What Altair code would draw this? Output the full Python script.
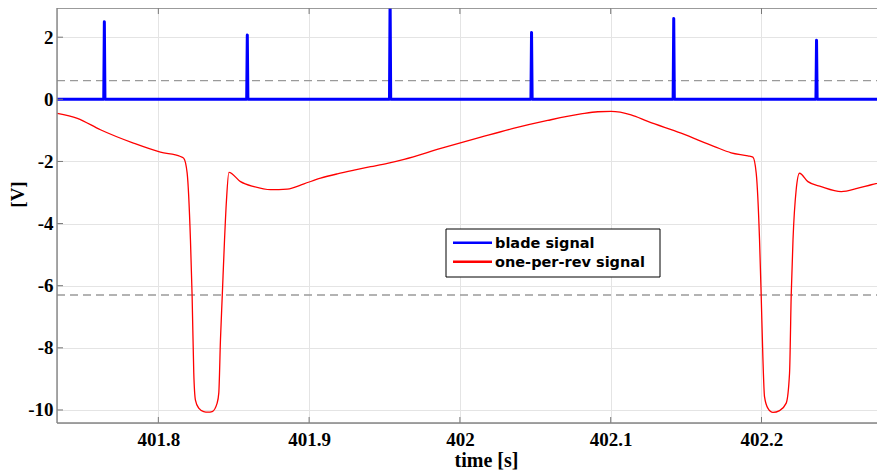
import altair as alt
import pandas as pd

# ---- data ----
t_start, t_end = 401.7328, 402.2766

red_t = [401.7330, 401.7463, 401.7616, 401.7835, 401.8014, 401.8147, 401.8169, 401.8191,
         401.8213, 401.8224, 401.8235, 401.8246, 401.8268, 401.8301, 401.8329, 401.8357,
         401.8390, 401.8401, 401.8412, 401.8424, 401.8439, 401.8452, 401.8468, 401.8545,
         401.8634, 401.8744, 401.8855, 401.8966, 401.9076, 401.9187, 401.9298, 401.9408,
         401.9519, 401.9630, 401.9873, 402.0139, 402.0360, 402.0582, 402.0803, 402.0914,
         402.1002, 402.1135, 402.1246, 402.1467, 402.1688, 402.1799, 402.1910, 402.1943,
         402.1965, 402.1987, 402.1998, 402.2009, 402.2020, 402.2043, 402.2076, 402.2120,
         402.2164, 402.2186, 402.2197, 402.2209, 402.2230, 402.2252, 402.2308, 402.2396,
         402.2529, 402.2640, 402.2728, 402.2821]
red_v = [-0.45, -0.61, -0.98, -1.41, -1.70, -1.84, -1.90, -2.37,
         -4.52, -6.32, -8.80, -9.68, -9.94, -10.05, -10.07, -10.05,
         -9.78, -9.45, -7.75, -6.32, -4.52, -3.24, -2.35, -2.65,
         -2.81, -2.91, -2.89, -2.72, -2.54, -2.40, -2.28, -2.17,
         -2.06, -1.93, -1.58, -1.22, -0.93, -0.68, -0.47, -0.40,
         -0.39, -0.50, -0.71, -1.09, -1.52, -1.72, -1.82, -1.86,
         -2.38, -4.52, -6.32, -8.28, -9.57, -9.95, -10.08, -10.02,
         -9.78, -8.82, -6.32, -4.52, -2.91, -2.38, -2.65, -2.81,
         -2.97, -2.86, -2.75, -2.65]

spike_t = [401.7642, 401.8590, 401.9537, 402.0475, 402.1418, 402.2365]
spike_v = [2.50, 2.07, 3.30, 2.15, 2.60, 1.90]
baseline_v = 0.0

series_names = ["blade signal", "one-per-rev signal"]
series_colors = ["#0000ff", "#ff0000"]
thresholds = [0.6, -6.3]
x_ticks = [401.8, 401.9, 402.0, 402.1, 402.2]
y_ticks = [-10, -8, -6, -4, -2, 0, 2]

# ---- tables ----
bt, bv = [t_start], [baseline_v]
for t, h in zip(spike_t, spike_v):
    bt += [t - 0.0004, t, t + 0.0004]
    bv += [baseline_v, h, baseline_v]
bt.append(402.2821)
bv.append(baseline_v)
blue_df = pd.DataFrame({"t": bt, "v": bv})
red_df = pd.DataFrame({"t": red_t, "v": red_v})
thr_df = pd.DataFrame({"v": thresholds})
yt_df = pd.DataFrame({"v": y_ticks})
xt_df = pd.DataFrame({"t": x_ticks})

W, H = 820, 415
SERIF = "Liberation Serif"
SANS = "DejaVu Sans"
FRAME = "#858585"

xs = alt.Scale(domain=[t_start, t_end], nice=False, zero=False)
ys = alt.Scale(domain=[-10.42, 2.94], nice=False, zero=False)

x_axis = alt.Axis(values=x_ticks, labelExpr="'' + datum.value", title="time [s]",
                  grid=True, gridColor="#e4e4e4", gridWidth=1, domain=False,
                  ticks=False, tickSize=0, labelPadding=7,
                  labelFont=SERIF, labelFontSize=19, labelFontWeight="bold", labelColor="#000",
                  titleFont=SERIF, titleFontSize=20, titleFontWeight="bold", titleColor="#000",
                  titleX=429, titleY=43, titleBaseline="alphabetic", titleAlign="center")
y_axis = alt.Axis(values=y_ticks, labelExpr="'' + datum.value", title="[V]",
                  grid=True, gridColor="#e4e4e4", gridWidth=1, domain=False,
                  ticks=False, tickSize=0, labelPadding=4,
                  labelFont=SERIF, labelFontSize=19, labelFontWeight="bold", labelColor="#000",
                  titleFont=SERIF, titleFontSize=19, titleFontWeight="bold", titleColor="#000",
                  titleX=-40, titleY=186, titleAngle=-90, titleBaseline="middle", titleAlign="center")

X = alt.X("t:Q", scale=xs, axis=x_axis)
Y = alt.Y("v:Q", scale=ys, axis=y_axis)

thr = alt.Chart(thr_df).mark_rule(color="#9a9a9a", strokeWidth=1.3, strokeDash=[8, 5]).encode(
    y=Y, x=alt.value(0), x2=alt.value(W))

blue = alt.Chart(blue_df).mark_line(color=series_colors[0], strokeWidth=3, clip=True,
                                    strokeJoin="round").encode(x=X, y=Y)
red = alt.Chart(red_df).mark_line(color=series_colors[1], strokeWidth=1.3, clip=True,
                                  interpolate="monotone").encode(x=X, y=Y)

tick_col = "#777777"
ytl = alt.Chart(yt_df).mark_rule(color=tick_col, strokeWidth=1).encode(
    y=Y, x=alt.value(0), x2=alt.value(6))
xtb = alt.Chart(xt_df).mark_rule(color=tick_col, strokeWidth=1).encode(
    x=X, y=alt.value(H - 6), y2=alt.value(H))
xtt = alt.Chart(xt_df).mark_rule(color=tick_col, strokeWidth=1).encode(
    x=X, y=alt.value(0), y2=alt.value(6))

# frame: left, top, bottom (the right side lies past the picture's edge)
one = alt.Data(values=[{}])
f_left = alt.Chart(one).mark_rule(color=FRAME, strokeWidth=1.4).encode(
    x=alt.value(0), y=alt.value(0), y2=alt.value(H))
f_top = alt.Chart(one).mark_rule(color=FRAME, strokeWidth=1.4).encode(
    x=alt.value(0), x2=alt.value(W), y=alt.value(0))
f_bot = alt.Chart(one).mark_rule(color=FRAME, strokeWidth=1.4).encode(
    x=alt.value(0), x2=alt.value(W), y=alt.value(H))

# ---- manual legend ----
lx0, lx1, ly0, ly1 = 389, 603, 221, 269
row_y = [234.7, 253.7]
leg_box = alt.Chart(one).mark_rect(
    fill="white", stroke="black", strokeWidth=1).encode(
    x=alt.value(lx0), x2=alt.value(lx1), y=alt.value(ly0), y2=alt.value(ly1))
leg_layers = [leg_box]
for name, col, ry in zip(series_names, series_colors, row_y):
    leg_layers.append(
        alt.Chart(alt.Data(values=[{"label": name}])).mark_rule(color=col, strokeWidth=2.6).encode(
            x=alt.value(396), x2=alt.value(435), y=alt.value(ry)))
    leg_layers.append(
        alt.Chart(alt.Data(values=[{"label": name}])).mark_text(
            font=SANS, fontSize=14.5, fontWeight="bold", color="#000",
            align="left", baseline="middle").encode(
            x=alt.value(438), y=alt.value(ry + 1), text="label:N"))

chart = alt.layer(thr, blue, red, ytl, xtb, xtt, f_left, f_top, f_bot, *leg_layers).properties(
    width=W, height=H,
    autosize=alt.AutoSizeParams(type="none"),
    padding={"left": 49, "top": 0, "right": 0, "bottom": 56},
).configure_view(stroke=None).configure(background="white")

chart.save("out.html", embed_options={"renderer": "svg", "actions": False})
